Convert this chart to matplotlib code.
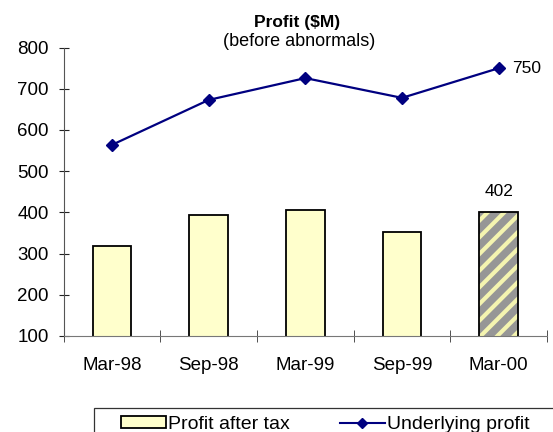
import matplotlib
matplotlib.use('Agg')
import matplotlib.pyplot as plt
from matplotlib.patches import Patch, Rectangle
from matplotlib.lines import Line2D
import numpy as np

plt.rcParams['font.family'] = ['Liberation Sans', 'DejaVu Sans']
plt.rcParams['hatch.linewidth'] = 3.0

periods = ['Mar-98', 'Sep-98', 'Mar-99', 'Sep-99', 'Mar-00']
profit_after_tax = [318, 394, 406, 353, 402]
underlying_profit = [564, 673, 726, 678, 750]

x = np.arange(len(periods))
W, H = 553, 432

fig = plt.figure(figsize=(W/100, H/100), dpi=100)
# axes box in pixel terms: left 63.7, right 547, y=100 at 336, y=800 at 47.6
ax = fig.add_axes([63.7/W, 1-336/H, (547-63.7)/W, (336-47.6)/H])

bw = 0.40
# plain bars
ax.bar(x[:-1], profit_after_tax[:-1], width=bw, bottom=0, color='#FFFFCC',
       edgecolor='black', linewidth=1.3, zorder=2)
# last bar hatched (grey with light-yellow stripes)
ax.bar(x[-1], profit_after_tax[-1], width=bw, color='#969696',
       edgecolor='#F4F4B0', hatch='//', linewidth=0, zorder=2)
ax.bar(x[-1], profit_after_tax[-1], width=bw, fill=False,
       edgecolor='black', linewidth=1.3, zorder=3)

ax.plot(x, underlying_profit, color='#000080', marker='D', markersize=6.5,
        linewidth=1.6, zorder=4)

ax.annotate('750', (x[-1], underlying_profit[-1]), xytext=(10, 0),
            textcoords='offset points', fontsize=12.5, va='center', ha='left')
ax.annotate('402', (x[-1], profit_after_tax[-1]), xytext=(0, 9),
            textcoords='offset points', fontsize=12.5, va='bottom', ha='center')

ax.set_xlim(-0.5, len(periods) - 0.5)
ax.set_ylim(100, 800)
ax.set_yticks(range(100, 801, 100))
ax.set_xticks(x)
ax.set_xticklabels(periods)
ax.set_xticks(np.arange(-0.5, len(periods)), minor=True)
ax.tick_params(axis='x', which='major', length=0, pad=15, labelsize=13.5)
ax.tick_params(axis='x', which='minor', length=8.5, direction='inout',
               color='#333333')
ax.tick_params(axis='y', direction='inout', length=7.2, pad=7, labelsize=13.5,
               color='#222222')

for s in ['top', 'right']:
    ax.spines[s].set_visible(False)
ax.spines['bottom'].set_color('#777777')
ax.spines['left'].set_color('#555555')

fig.text(297/W, 1-23/H, 'Profit (\\$M)', fontsize=12.5, fontweight='bold',
         ha='center', va='center')
fig.text(299/W, 1-42/H, '(before abnormals)', fontsize=13,
         ha='center', va='center')

# legend frame runs off the bottom/right edge of the picture
fig.patches.append(Rectangle((94/W, -0.05), 1.0, (1-407.7/H) + 0.05,
                             transform=fig.transFigure, fill=False,
                             edgecolor='#333333', linewidth=0.9))
handles = [Patch(facecolor='#FFFFCC', edgecolor='black', linewidth=1.3),
           Line2D([], [], color='#000080', marker='D', markersize=5.5,
                  linewidth=1.5)]
fig.legend(handles, ['Profit after tax', 'Underlying profit'],
           loc='upper left', bbox_to_anchor=(121/W, 1-416/H),
           ncol=2, fontsize=14, frameon=False, borderpad=0,
           borderaxespad=0, columnspacing=2.6, handlelength=2.3,
           handleheight=0.55, handletextpad=0.1)

fig.savefig('out.png', dpi=100)
